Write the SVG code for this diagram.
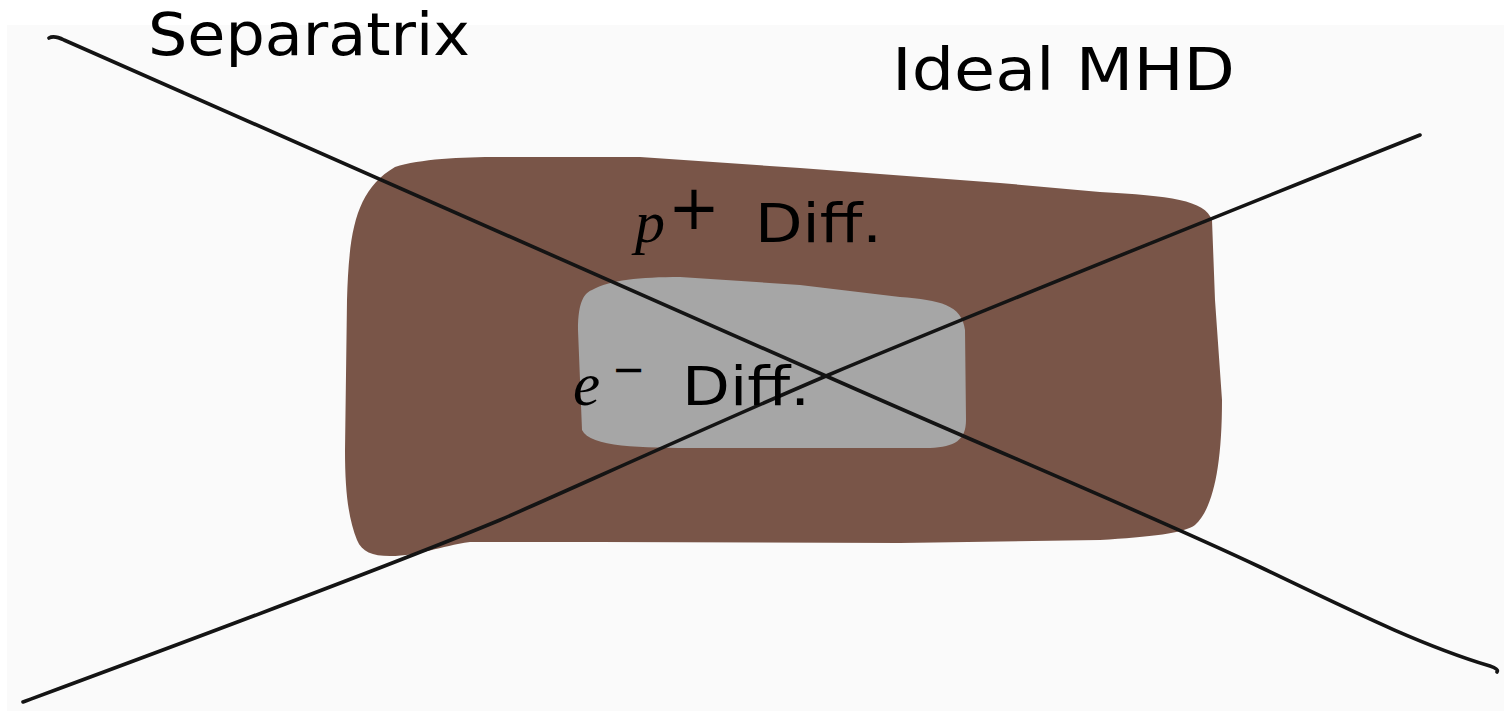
<svg xmlns="http://www.w3.org/2000/svg" width="1504" height="711" viewBox="0 0 1504 711">
  <style>
    .sep { fill: none; stroke: #141414; stroke-width: 3.6; stroke-linecap: round; stroke-linejoin: round; }
    .lbl { font-family: "DejaVu Sans", "Liberation Sans", sans-serif; fill: #000; }
    .math { font-family: "Liberation Serif", "DejaVu Serif", serif; font-style: italic; fill: #000; }
  </style>
  <rect x="0" y="0" width="1504" height="711" fill="#ffffff"/>
  <rect x="7" y="25" width="1497" height="686" fill="#fafafa"/>

  <g id="proton-diffusion-region">
    <path d="M 395,167 C 420,159 460,157 500,157 L 640,157 L 800,168 L 1000,183 L 1100,192 C 1170,196 1205,200 1212,220 L 1215,300 L 1222,400 C 1222,470 1212,510 1195,525 C 1185,533 1150,537 1100,540 L 900,543 L 600,542 L 470,542 C 440,546 420,556 390,556 C 372,556 362,552 357,540 C 349,520 345,495 345,450 L 347,300 C 349,230 356,190 395,167 Z" fill="#795548"/>
    <text class="math" x="635" y="242" font-size="60">p</text>
    <text class="lbl" x="668" y="229" font-size="62">+</text>
    <text class="lbl" x="755" y="242" font-size="54" textLength="127" lengthAdjust="spacingAndGlyphs">Diff.</text>
  </g>

  <g id="electron-diffusion-region">
    <path d="M 592,290 C 610,280 640,277 680,277 L 800,285 L 900,297 C 940,300 962,305 965,330 L 966,420 C 966,440 955,447 930,448 L 700,448 C 640,448 590,447 582,430 L 578,330 C 578,300 585,293 592,290 Z" fill="#a6a6a6"/>
  </g>

  <g id="connectors">
    <path class="sep" d="M 49,38 Q 54,35 64,40 C 200,100 450,210 826,376 C 1000,453 1150,515 1260,567 C 1350,610 1420,645 1490,666 Q 1499,669 1497,672"/>
    <path class="sep" d="M 23,702 C 150,655 380,570 500,520 C 560,494 700,430 826,376 C 1000,303 1200,223 1420,135"/>
  </g>

  <g id="electron-label">
    <text class="math" x="573" y="405" font-size="61">e</text>
    <text class="lbl" x="612" y="383" font-size="40">−</text>
    <text class="lbl" x="682" y="405" font-size="54" textLength="128" lengthAdjust="spacingAndGlyphs">Diff.</text>
  </g>

  <g id="separatrix-label">
    <text class="lbl" x="148" y="55" font-size="58" textLength="322" lengthAdjust="spacingAndGlyphs">Separatrix</text>
  </g>
  <g id="ideal-mhd-label">
    <text class="lbl" x="892" y="90" font-size="58" textLength="343" lengthAdjust="spacingAndGlyphs">Ideal MHD</text>
  </g>
</svg>
